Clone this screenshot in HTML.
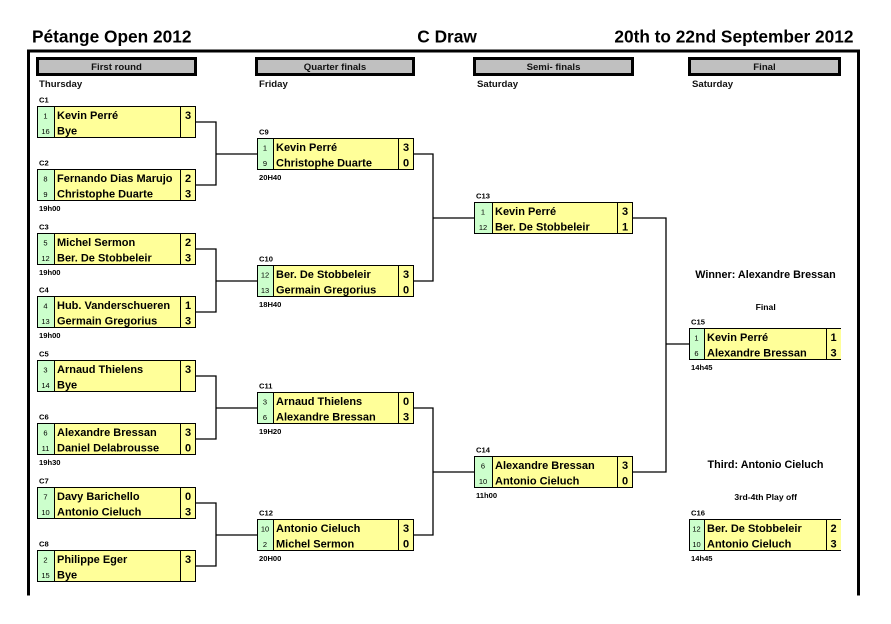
<!DOCTYPE html>
<html><head><meta charset="utf-8"><style>
html,body{margin:0;padding:0;background:#fff;}
svg{display:block;}
text{font-family:"Liberation Sans",Arial,sans-serif;fill:#000;}
.t{font-size:17.3px;font-weight:bold;}
.h{font-size:9.6px;font-weight:bold;text-anchor:middle;fill:#111;}
.d{font-size:9.6px;font-weight:bold;fill:#111;}
.s{font-size:7.5px;text-anchor:middle;}
.n{font-size:11px;font-weight:bold;}
.c{font-size:11px;font-weight:bold;text-anchor:middle;}
.l{font-size:7.6px;font-weight:bold;}
.w{font-size:10.8px;font-weight:bold;text-anchor:middle;}
.f{font-size:8.6px;font-weight:bold;text-anchor:middle;}
.k{stroke:#000;stroke-width:1;fill:none;}
</style></head><body>
<svg width="891" height="624" viewBox="0 0 891 624" xmlns="http://www.w3.org/2000/svg">
<rect width="891" height="624" fill="#fff"/>
<text class="t" x="32" y="42.5">Pétange Open 2012</text>
<text class="t" x="417.3" y="42.5">C Draw</text>
<text class="t" x="853.5" y="42.5" text-anchor="end">20th to 22nd September 2012</text>
<rect x="27" y="49.5" width="833" height="3" fill="#000"/>
<rect x="27" y="49.5" width="3" height="546" fill="#000"/>
<rect x="857" y="49.5" width="3" height="546" fill="#000"/>
<rect x="37.5" y="58.5" width="158" height="16" fill="#c0c0c0" stroke="#000" stroke-width="3"/>
<rect x="256.5" y="58.5" width="157" height="16" fill="#c0c0c0" stroke="#000" stroke-width="3"/>
<rect x="474.5" y="58.5" width="158" height="16" fill="#c0c0c0" stroke="#000" stroke-width="3"/>
<rect x="689.5" y="58.5" width="150" height="16" fill="#c0c0c0" stroke="#000" stroke-width="3"/>
<text class="h" x="116.5" y="70">First round</text>
<text class="h" x="335" y="70">Quarter finals</text>
<text class="h" x="553.5" y="70">Semi- finals</text>
<text class="h" x="764.5" y="70">Final</text>
<text class="d" x="39" y="86.8">Thursday</text>
<text class="d" x="259" y="86.8">Friday</text>
<text class="d" x="477" y="86.8">Saturday</text>
<text class="d" x="692" y="86.8">Saturday</text>
<g stroke="#000" stroke-width="1.3" fill="none">
<path d="M196 122H216V185H196M216 154H257"/>
<path d="M196 249H216V312H196M216 281H257"/>
<path d="M196 376H216V439H196M216 408H257"/>
<path d="M196 503H216V566H196M216 535H257"/>
<path d="M414 154H433V281H414M433 218H474"/>
<path d="M414 408H433V535H414M433 472H474"/>
<path d="M633 218H666V472H633M666 344H689"/>
</g>
<g transform="translate(37,106)"><rect x=".5" y=".5" width="158" height="31" fill="#ffff99" stroke="#000"/><rect x=".5" y=".5" width="17" height="31" fill="#ccffcc" stroke="#000"/><line x1="143.5" y1="0" x2="143.5" y2="32" stroke="#000"/>
<text class="l" x="2" y="-3.4">C1</text>
<text class="s" x="8.5" y="12.6">1</text><text class="s" x="8.5" y="27.8">16</text>
<text class="n" x="20" y="13.2">Kevin Perré</text><text class="n" x="20" y="28.4">Bye</text>
<text class="c" x="151" y="13.2">3</text></g>
<g transform="translate(37,169)"><rect x=".5" y=".5" width="158" height="31" fill="#ffff99" stroke="#000"/><rect x=".5" y=".5" width="17" height="31" fill="#ccffcc" stroke="#000"/><line x1="143.5" y1="0" x2="143.5" y2="32" stroke="#000"/>
<text class="l" x="2" y="-3.4">C2</text><text class="l" x="2" y="42">19h00</text>
<text class="s" x="8.5" y="12.6">8</text><text class="s" x="8.5" y="27.8">9</text>
<text class="n" x="20" y="13.2">Fernando Dias Marujo</text><text class="n" x="20" y="28.4">Christophe Duarte</text>
<text class="c" x="151" y="13.2">2</text><text class="c" x="151" y="28.4">3</text></g>
<g transform="translate(37,233)"><rect x=".5" y=".5" width="158" height="31" fill="#ffff99" stroke="#000"/><rect x=".5" y=".5" width="17" height="31" fill="#ccffcc" stroke="#000"/><line x1="143.5" y1="0" x2="143.5" y2="32" stroke="#000"/>
<text class="l" x="2" y="-3.4">C3</text><text class="l" x="2" y="42">19h00</text>
<text class="s" x="8.5" y="12.6">5</text><text class="s" x="8.5" y="27.8">12</text>
<text class="n" x="20" y="13.2">Michel Sermon</text><text class="n" x="20" y="28.4">Ber. De Stobbeleir</text>
<text class="c" x="151" y="13.2">2</text><text class="c" x="151" y="28.4">3</text></g>
<g transform="translate(37,296)"><rect x=".5" y=".5" width="158" height="31" fill="#ffff99" stroke="#000"/><rect x=".5" y=".5" width="17" height="31" fill="#ccffcc" stroke="#000"/><line x1="143.5" y1="0" x2="143.5" y2="32" stroke="#000"/>
<text class="l" x="2" y="-3.4">C4</text><text class="l" x="2" y="42">19h00</text>
<text class="s" x="8.5" y="12.6">4</text><text class="s" x="8.5" y="27.8">13</text>
<text class="n" x="20" y="13.2">Hub. Vanderschueren</text><text class="n" x="20" y="28.4">Germain Gregorius</text>
<text class="c" x="151" y="13.2">1</text><text class="c" x="151" y="28.4">3</text></g>
<g transform="translate(37,360)"><rect x=".5" y=".5" width="158" height="31" fill="#ffff99" stroke="#000"/><rect x=".5" y=".5" width="17" height="31" fill="#ccffcc" stroke="#000"/><line x1="143.5" y1="0" x2="143.5" y2="32" stroke="#000"/>
<text class="l" x="2" y="-3.4">C5</text>
<text class="s" x="8.5" y="12.6">3</text><text class="s" x="8.5" y="27.8">14</text>
<text class="n" x="20" y="13.2">Arnaud Thielens</text><text class="n" x="20" y="28.4">Bye</text>
<text class="c" x="151" y="13.2">3</text></g>
<g transform="translate(37,423)"><rect x=".5" y=".5" width="158" height="31" fill="#ffff99" stroke="#000"/><rect x=".5" y=".5" width="17" height="31" fill="#ccffcc" stroke="#000"/><line x1="143.5" y1="0" x2="143.5" y2="32" stroke="#000"/>
<text class="l" x="2" y="-3.4">C6</text><text class="l" x="2" y="42">19h30</text>
<text class="s" x="8.5" y="12.6">6</text><text class="s" x="8.5" y="27.8">11</text>
<text class="n" x="20" y="13.2">Alexandre Bressan</text><text class="n" x="20" y="28.4">Daniel Delabrousse</text>
<text class="c" x="151" y="13.2">3</text><text class="c" x="151" y="28.4">0</text></g>
<g transform="translate(37,487)"><rect x=".5" y=".5" width="158" height="31" fill="#ffff99" stroke="#000"/><rect x=".5" y=".5" width="17" height="31" fill="#ccffcc" stroke="#000"/><line x1="143.5" y1="0" x2="143.5" y2="32" stroke="#000"/>
<text class="l" x="2" y="-3.4">C7</text>
<text class="s" x="8.5" y="12.6">7</text><text class="s" x="8.5" y="27.8">10</text>
<text class="n" x="20" y="13.2">Davy Barichello</text><text class="n" x="20" y="28.4">Antonio Cieluch</text>
<text class="c" x="151" y="13.2">0</text><text class="c" x="151" y="28.4">3</text></g>
<g transform="translate(37,550)"><rect x=".5" y=".5" width="158" height="31" fill="#ffff99" stroke="#000"/><rect x=".5" y=".5" width="17" height="31" fill="#ccffcc" stroke="#000"/><line x1="143.5" y1="0" x2="143.5" y2="32" stroke="#000"/>
<text class="l" x="2" y="-3.4">C8</text>
<text class="s" x="8.5" y="12.6">2</text><text class="s" x="8.5" y="27.8">15</text>
<text class="n" x="20" y="13.2">Philippe Eger</text><text class="n" x="20" y="28.4">Bye</text>
<text class="c" x="151" y="13.2">3</text></g>
<g transform="translate(257,138)"><rect x=".5" y=".5" width="156" height="31" fill="#ffff99" stroke="#000"/><rect x=".5" y=".5" width="16" height="31" fill="#ccffcc" stroke="#000"/><line x1="141.5" y1="0" x2="141.5" y2="32" stroke="#000"/>
<text class="l" x="2" y="-3.4">C9</text><text class="l" x="2" y="42">20H40</text>
<text class="s" x="8" y="12.6">1</text><text class="s" x="8" y="27.8">9</text>
<text class="n" x="19" y="13.2">Kevin Perré</text><text class="n" x="19" y="28.4">Christophe Duarte</text>
<text class="c" x="149" y="13.2">3</text><text class="c" x="149" y="28.4">0</text></g>
<g transform="translate(257,265)"><rect x=".5" y=".5" width="156" height="31" fill="#ffff99" stroke="#000"/><rect x=".5" y=".5" width="16" height="31" fill="#ccffcc" stroke="#000"/><line x1="141.5" y1="0" x2="141.5" y2="32" stroke="#000"/>
<text class="l" x="2" y="-3.4">C10</text><text class="l" x="2" y="42">18H40</text>
<text class="s" x="8" y="12.6">12</text><text class="s" x="8" y="27.8">13</text>
<text class="n" x="19" y="13.2">Ber. De Stobbeleir</text><text class="n" x="19" y="28.4">Germain Gregorius</text>
<text class="c" x="149" y="13.2">3</text><text class="c" x="149" y="28.4">0</text></g>
<g transform="translate(257,392)"><rect x=".5" y=".5" width="156" height="31" fill="#ffff99" stroke="#000"/><rect x=".5" y=".5" width="16" height="31" fill="#ccffcc" stroke="#000"/><line x1="141.5" y1="0" x2="141.5" y2="32" stroke="#000"/>
<text class="l" x="2" y="-3.4">C11</text><text class="l" x="2" y="42">19H20</text>
<text class="s" x="8" y="12.6">3</text><text class="s" x="8" y="27.8">6</text>
<text class="n" x="19" y="13.2">Arnaud Thielens</text><text class="n" x="19" y="28.4">Alexandre Bressan</text>
<text class="c" x="149" y="13.2">0</text><text class="c" x="149" y="28.4">3</text></g>
<g transform="translate(257,519)"><rect x=".5" y=".5" width="156" height="31" fill="#ffff99" stroke="#000"/><rect x=".5" y=".5" width="16" height="31" fill="#ccffcc" stroke="#000"/><line x1="141.5" y1="0" x2="141.5" y2="32" stroke="#000"/>
<text class="l" x="2" y="-3.4">C12</text><text class="l" x="2" y="42">20H00</text>
<text class="s" x="8" y="12.6">10</text><text class="s" x="8" y="27.8">2</text>
<text class="n" x="19" y="13.2">Antonio Cieluch</text><text class="n" x="19" y="28.4">Michel Sermon</text>
<text class="c" x="149" y="13.2">3</text><text class="c" x="149" y="28.4">0</text></g>
<g transform="translate(474,202)"><rect x=".5" y=".5" width="158" height="31" fill="#ffff99" stroke="#000"/><rect x=".5" y=".5" width="18" height="31" fill="#ccffcc" stroke="#000"/><line x1="143.5" y1="0" x2="143.5" y2="32" stroke="#000"/>
<text class="l" x="2" y="-3.4">C13</text>
<text class="s" x="9" y="12.6">1</text><text class="s" x="9" y="27.8">12</text>
<text class="n" x="21" y="13.2">Kevin Perré</text><text class="n" x="21" y="28.4">Ber. De Stobbeleir</text>
<text class="c" x="151" y="13.2">3</text><text class="c" x="151" y="28.4">1</text></g>
<g transform="translate(474,456)"><rect x=".5" y=".5" width="158" height="31" fill="#ffff99" stroke="#000"/><rect x=".5" y=".5" width="18" height="31" fill="#ccffcc" stroke="#000"/><line x1="143.5" y1="0" x2="143.5" y2="32" stroke="#000"/>
<text class="l" x="2" y="-3.4">C14</text><text class="l" x="2" y="42">11h00</text>
<text class="s" x="9" y="12.6">6</text><text class="s" x="9" y="27.8">10</text>
<text class="n" x="21" y="13.2">Alexandre Bressan</text><text class="n" x="21" y="28.4">Antonio Cieluch</text>
<text class="c" x="151" y="13.2">3</text><text class="c" x="151" y="28.4">0</text></g>
<text class="w" x="765.5" y="277.9">Winner: Alexandre Bressan</text>
<text class="f" x="765.7" y="309.8">Final</text>
<g transform="translate(689,328)"><rect x="0" y="0" width="152" height="32" fill="#ffff99"/><rect x=".5" y=".5" width="15" height="31" fill="#ccffcc" stroke="#000"/><path d="M152 .5H.5V31.5H152" class="k"/><line x1="137.5" y1="0" x2="137.5" y2="32" stroke="#000"/>
<text class="l" x="2" y="-3.4">C15</text><text class="l" x="2" y="42">14h45</text>
<text class="s" x="7.5" y="12.6">1</text><text class="s" x="7.5" y="27.8">6</text>
<text class="n" x="18" y="13.2">Kevin Perré</text><text class="n" x="18" y="28.4">Alexandre Bressan</text>
<text class="c" x="144.5" y="13.2">1</text><text class="c" x="144.5" y="28.4">3</text></g>
<text class="w" x="765.5" y="467.9">Third: Antonio Cieluch</text>
<text class="f" x="765.7" y="499.8">3rd-4th Play off</text>
<g transform="translate(689,519)"><rect x="0" y="0" width="152" height="32" fill="#ffff99"/><rect x=".5" y=".5" width="15" height="31" fill="#ccffcc" stroke="#000"/><path d="M152 .5H.5V31.5H152" class="k"/><line x1="137.5" y1="0" x2="137.5" y2="32" stroke="#000"/>
<text class="l" x="2" y="-3.4">C16</text><text class="l" x="2" y="42">14h45</text>
<text class="s" x="7.5" y="12.6">12</text><text class="s" x="7.5" y="27.8">10</text>
<text class="n" x="18" y="13.2">Ber. De Stobbeleir</text><text class="n" x="18" y="28.4">Antonio Cieluch</text>
<text class="c" x="144.5" y="13.2">2</text><text class="c" x="144.5" y="28.4">3</text></g>
</svg>
</body></html>
